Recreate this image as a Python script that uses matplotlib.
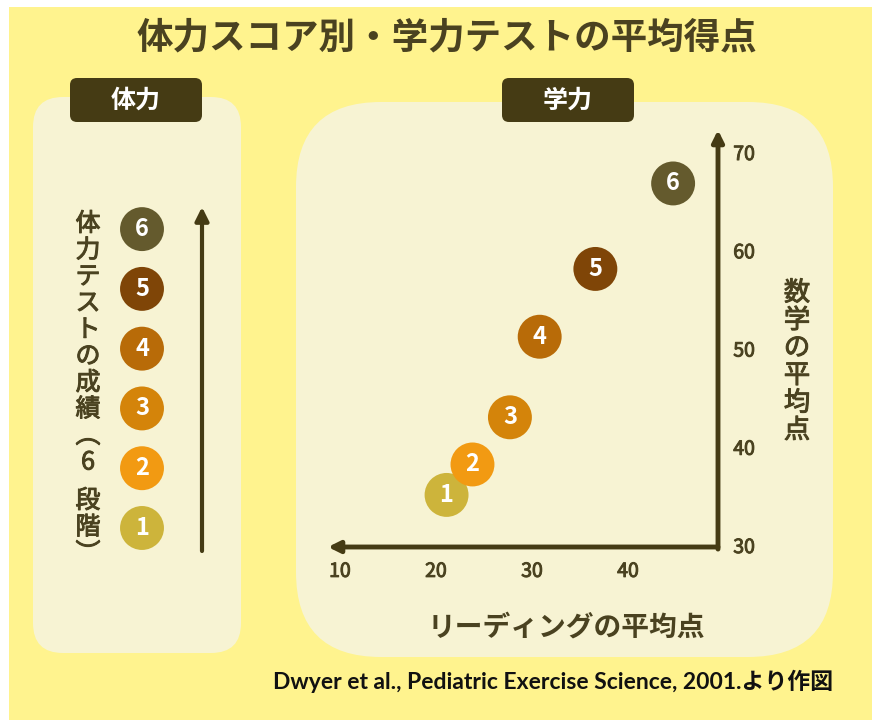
import matplotlib.pyplot as plt
import matplotlib.patheffects as pe
from matplotlib.patches import FancyBboxPatch, Rectangle

plt.rcParams['font.family'] = ['Noto Sans CJK JP', 'DejaVu Sans']

# data
levels = [1, 2, 3, 4, 5, 6]
reading = [21.1, 23.8, 27.7, 30.8, 36.6, 44.7]
math = [35.1, 38.2, 43.0, 51.2, 58.1, 66.8]
level_colors = ['#CDB43B', '#F29A12', '#D4840A', '#B86B08', '#7F4507', '#645A2D']
x_ticks = [10, 20, 30, 40]
y_ticks = [30, 40, 50, 60, 70]

title = '体力スコア別・学力テストの平均得点'
left_label = ['体', '力', 'テ', 'ス', 'ト', 'の', '成', '績', '︵', '6', '', '段', '階', '︶']
y_label = '数学の平均点'
x_label = 'リーディングの平均点'
source = 'Dwyer et al., Pediatric Exercise Science, 2001.より作図'

yellow = '#FFF38E'
cream = '#F7F3D3'
dark = '#453B14'
textc = '#4A4220'

# a little stroke to get a medium weight
semi = [pe.withStroke(linewidth=0.7, foreground=textc)]

W, H = 872, 720
fig = plt.figure(figsize=(W / 100, H / 100), dpi=100, facecolor='white')

# background layer in pixel coordinates
bg = fig.add_axes([0, 0, 1, 1])
bg.set_xlim(0, W)
bg.set_ylim(H, 0)
bg.axis('off')
bg.add_patch(Rectangle((9, 7), W - 9, H - 7, color=yellow, lw=0))
bg.add_patch(FancyBboxPatch((33, 97), 208, 556, boxstyle='round,pad=0,rounding_size=30',
                            fc=cream, ec='none'))
bg.add_patch(FancyBboxPatch((296, 102), 537, 555, boxstyle='round,pad=0,rounding_size=85',
                            fc=cream, ec='none'))
for x0, lab in [(70, '体力'), (502, '学力')]:
    bg.add_patch(FancyBboxPatch((x0, 78), 132, 44, boxstyle='round,pad=0,rounding_size=7',
                                fc=dark, ec='none'))
    bg.text(x0 + 66, 101, lab, ha='center', va='center', color='white',
            fontsize=18, fontweight='bold')

bg.text(447, 38, title, ha='center', va='center', color=textc, fontsize=26.3, fontweight='bold')

# vertical label on the left
yy = 224
for ch in left_label:
    if ch:
        bg.text(88, yy, ch, ha='center', va='center', color=textc, fontsize=18,
                path_effects=semi)
    yy += 26.5 if ch else 12

# vertical y label on the right
for i, ch in enumerate(y_label):
    bg.text(797, 293 + i * 27.5, ch, ha='center', va='center', color=textc, fontsize=19,
            path_effects=semi)

bg.text(566, 628, x_label, ha='center', va='center', color=textc, fontsize=20,
        fontweight='bold')
bg.text(833, 681, source, ha='right', va='center', color='#111111', fontsize=16.5,
        fontweight='bold', family=['Lato', 'Noto Sans CJK JP'])

# left panel: fitness levels
lax = fig.add_axes([100 / W, 1 - 551 / H, 120 / W, 344 / H])
lax.set_xlim(-0.7, 1.3)
lax.set_ylim(0.615, 6.37)
lax.axis('off')
lax.scatter([0] * len(levels), levels, s=1000, c=level_colors, edgecolors='none')
for lv in levels:
    lax.text(0, lv, str(lv), ha='center', va='center', color='white', fontsize=17,
             fontweight='bold')
lax.annotate('', xy=(1, 1), xycoords=('data', 'axes fraction'), xytext=(1, 0),
             textcoords=('data', 'axes fraction'),
             arrowprops=dict(arrowstyle='-|>', lw=3, color=dark, mutation_scale=20,
                             shrinkA=0, shrinkB=0))

# right panel: scatter
ax = fig.add_axes([328 / W, 1 - 547 / H, 390 / W, 417 / H])
ax.patch.set_visible(False)
ax.set_xlim(8.75, 49.375)
ax.set_ylim(29.8, 72.24)
for s in ax.spines.values():
    s.set_visible(False)
ax.scatter(reading, math, s=1000, c=level_colors, edgecolors='none', clip_on=False)
for lv, x, y in zip(levels, reading, math):
    ax.text(x, y, str(lv), ha='center', va='center', color='white', fontsize=17,
            fontweight='bold')
ax.annotate('', xy=(0, 0), xycoords='axes fraction', xytext=(1, 0),
            arrowprops=dict(arrowstyle='-|>', lw=3.5, color=dark, mutation_scale=17,
                            shrinkA=0, shrinkB=0))
ax.annotate('', xy=(1, 1), xycoords='axes fraction', xytext=(1, -0.005),
            arrowprops=dict(arrowstyle='-|>', lw=3.5, color=dark, mutation_scale=17,
                            shrinkA=0, shrinkB=0))
ax.set_xticks(x_ticks)
ax.set_yticks(y_ticks)
ax.yaxis.tick_right()
ax.tick_params(axis='x', length=0, pad=10, labelsize=14, labelcolor=textc)
ax.tick_params(axis='y', length=0, pad=11, labelsize=14, labelcolor=textc)
for t in ax.get_xticklabels() + ax.get_yticklabels():
    t.set_path_effects(semi)

fig.savefig('out.png', dpi=100, facecolor='white')
